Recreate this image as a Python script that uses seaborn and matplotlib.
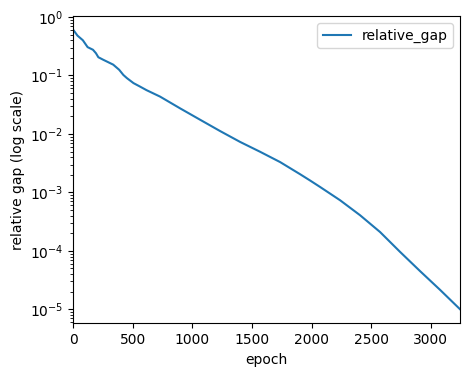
import matplotlib
matplotlib.use("Agg")
import matplotlib.pyplot as plt
import seaborn as sns
import pandas as pd

epoch = [0, 35, 80, 120, 165, 190, 210, 250, 335, 385, 420, 450, 505, 560,
         615, 728, 896, 1064, 1232, 1400, 1568, 1736, 1903, 1987, 2071, 2239,
         2407, 2575, 2743, 2911, 3079, 3247]
relative_gap = [0.60, 0.48, 0.40, 0.305, 0.275, 0.24, 0.205, 0.186, 0.153, 0.125,
                0.102, 0.090, 0.074, 0.0645, 0.056, 0.0435, 0.0274, 0.0175,
                0.0112, 0.0073, 0.00495, 0.0033, 0.00205, 0.0016, 0.00124,
                7.35e-4, 4.07e-4, 2.1e-4, 9.6e-5, 4.5e-5, 2.15e-5, 1.0e-5]

df = pd.DataFrame({"epoch": epoch, "relative_gap": relative_gap})

fig, ax = plt.subplots(figsize=(4.7, 3.77), dpi=100)
fig.subplots_adjust(left=0.156, right=0.979, bottom=0.1424, top=0.9576)
sns.lineplot(data=df, x="epoch", y="relative_gap", ax=ax, label="relative_gap",
             color="#1f77b4", linewidth=1.5)
ax.set_yscale("log")
ax.set_xlim(0, max(epoch))
ax.set_xlabel("epoch")
ax.set_ylabel("relative gap (log scale)")
ax.legend(loc="upper right")
fig.savefig("out.png", dpi=100)
